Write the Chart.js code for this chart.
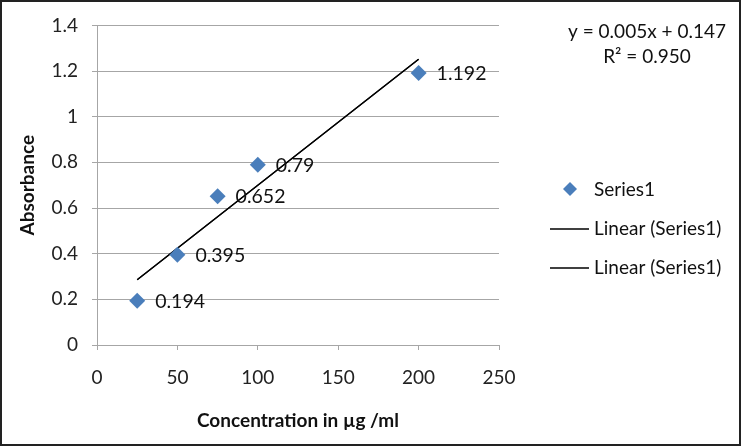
<!DOCTYPE html>
<html><head><meta charset="utf-8">
<script src="https://cdn.jsdelivr.net/npm/chart.js@4/dist/chart.umd.min.js"></script>
<style>
html,body{margin:0;padding:0;background:#fff;}
#wrap{position:relative;width:741px;height:446px;box-sizing:border-box;border:2px solid #222;}
canvas{position:absolute;left:-2px;top:-2px;}
</style></head>
<body><div id="wrap"><canvas id="c" width="741" height="446"></canvas></div>
<script>
const concentrations = [25, 50, 75, 100, 200];
const absorbance = [0.194, 0.395, 0.652, 0.79, 1.192];
const trendX = [25, 200];
const trendY = [0.286, 1.252];
const yTicks = [0, 0.2, 0.4, 0.6, 0.8, 1, 1.2, 1.4];
const xTicks = [0, 50, 100, 150, 200, 250];
const seriesName = 'Series1';
const trendName = 'Linear (Series1)';
const equationLines = ['y = 0.005x + 0.147', 'R² = 0.950'];
const xTitle = 'Concentration in µg /ml';
const yTitle = 'Absorbance';

const FONT = 'Lato, "Open Sans", sans-serif';
const BLUE = '#4a7ebb';

const pts = concentrations.map((x, i) => ({x, y: absorbance[i]}));
const tr = trendX.map((x, i) => ({x, y: trendY[i]}));

const overlay = {
  id: 'overlay',
  afterDatasetsDraw(chart) {
    const ctx = chart.ctx;
    const xs = chart.scales.x, ys = chart.scales.y;
    ctx.save();
    ctx.fillStyle = '#111';
    ctx.font = '19.5px ' + FONT;
    ctx.textAlign = 'left';
    ctx.textBaseline = 'middle';
    pts.forEach(p => {
      ctx.fillText(String(p.y), xs.getPixelForValue(p.x) + 18, ys.getPixelForValue(p.y) + 1);
    });
    // equation
    ctx.font = '19px ' + FONT;
    ctx.textAlign = 'center';
    ctx.fillText(equationLines[0], 647, 32);
    ctx.fillText(equationLines[1], 647, 57);
    // legend
    ctx.textAlign = 'left';
    ctx.fillStyle = BLUE;
    ctx.beginPath();
    ctx.moveTo(570, 182); ctx.lineTo(577, 189); ctx.lineTo(570, 196); ctx.lineTo(563, 189); ctx.closePath();
    ctx.fill();
    ctx.fillStyle = '#111';
    ctx.fillText(seriesName, 594, 190);
    ctx.strokeStyle = '#000';
    ctx.lineWidth = 1.3;
    [229, 268].forEach(y => {
      ctx.beginPath(); ctx.moveTo(550, y); ctx.lineTo(589, y); ctx.stroke();
      ctx.fillText(trendName, 594, y);
    });
    ctx.restore();
  }
};

new Chart(document.getElementById('c'), {
  type: 'scatter',
  data: {
    datasets: [
      {label: seriesName, data: pts, pointStyle: 'rectRot', pointRadius: 8, pointHoverRadius: 8,
       backgroundColor: BLUE, borderColor: BLUE, borderWidth: 0, showLine: false, order: 0},
      {label: trendName, data: tr, showLine: true, pointRadius: 0, borderColor: '#000', borderWidth: 1.3, order: 1},
      {label: trendName, data: tr, showLine: true, pointRadius: 0, borderColor: '#000', borderWidth: 1.3, order: 2}
    ]
  },
  options: {
    responsive: false,
    animation: false,
    devicePixelRatio: 1,
    layout: {padding: {top: 21, right: 242, left: 0, bottom: 10}},
    plugins: {legend: {display: false}, tooltip: {enabled: false}},
    scales: {
      x: {
        type: 'linear', min: 0, max: 250,
        afterBuildTicks: s => { s.ticks = xTicks.map(v => ({value: v})); },
        afterFit: s => { s.height = 91; },
        grid: {drawOnChartArea: false, drawTicks: true, tickLength: 5, color: '#a6a6a6'},
        border: {color: '#a6a6a6', width: 1},
        ticks: {color: '#222', font: {size: 19, family: FONT}, padding: 16, callback: v => String(v)},
        title: {display: true, text: xTitle, color: '#111', font: {size: 19, weight: 'bold', family: FONT}, padding: {top: 0}}
      },
      y: {
        type: 'linear', min: 0, max: 1.4,
        afterBuildTicks: s => { s.ticks = yTicks.map(v => ({value: v})); },
        afterFit: s => { s.width = 97; },
        grid: {drawOnChartArea: true, drawTicks: true, tickLength: 5, color: '#a6a6a6'},
        border: {color: '#a6a6a6', width: 1},
        ticks: {color: '#222', font: {size: 19, family: FONT}, padding: 14, callback: v => String(v)},
        title: {display: true, text: yTitle, color: '#111', font: {size: 19, weight: 'bold', family: FONT}, padding: {top: 16, bottom: 0}}
      }
    }
  },
  plugins: [overlay]
});
</script>
</body></html>
